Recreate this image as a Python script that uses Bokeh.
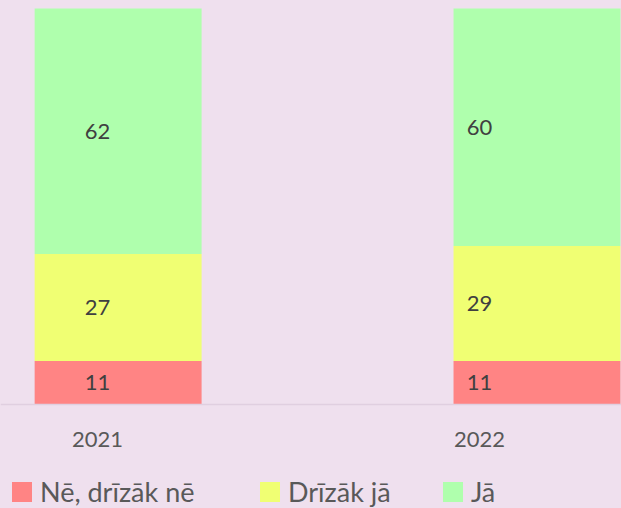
from bokeh.plotting import figure
from bokeh.models import ColumnDataSource, Range1d, FixedTicker, Legend, LegendItem
from bokeh.embed import file_html
from bokeh.resources import INLINE
from bokeh.core.properties import value

# ---- data ----
years = ["2021", "2022"]
series = ["Nē, drīzāk nē", "Drīzāk jā", "Jā"]
ne = [11, 11]
drizak_ja = [27, 29]
ja = [62, 60]

# ---- style / layout ----
BG = "#EFE0EE"
COLORS = ["#FF8484", "#F0FF73", "#AFFFAD"]
BAR_SHIFT = [0.054, 0.1505]
BAR_WIDTH = 0.437
FONT = "Lato"

idx = list(range(len(years)))
src = ColumnDataSource(dict(
    idx=idx,
    xbar=[i + s for i, s in zip(idx, BAR_SHIFT)],
    ne=ne, drizak_ja=drizak_ja, ja=ja,
))

p = figure(width=621, height=508, output_backend="svg", toolbar_location=None,
           x_range=Range1d(-0.2539, 1.3717), y_range=Range1d(-26.26, 102.02),
           min_border_left=0, min_border_right=0, min_border_top=0, min_border_bottom=0)
p.background_fill_color = BG
p.border_fill_color = BG
p.outline_line_color = None
p.xgrid.visible = False
p.ygrid.visible = False
p.yaxis.visible = False

renderers = p.vbar_stack(["ne", "drizak_ja", "ja"], x="xbar", width=BAR_WIDTH,
                         color=COLORS, line_color=None, source=src)

# data labels at segment middles
bottoms = [0] * len(years)
for key, vals in zip(["ne", "drizak_ja", "ja"], [ne, drizak_ja, ja]):
    mids = [b + v / 2 for b, v in zip(bottoms, vals)]
    ls = ColumnDataSource(dict(x=idx, y=mids, t=[str(v) for v in vals]))
    p.text(x="x", y="y", text="t", source=ls, text_align="center", text_baseline="middle",
           text_font=value(FONT), text_font_size="22px", text_color="#404040")
    bottoms = [b + v for b, v in zip(bottoms, vals)]

ax = p.xaxis[0]
ax.fixed_location = 0
ax.ticker = FixedTicker(ticks=idx)
ax.major_label_overrides = {i: y for i, y in zip(idx, years)}
ax.major_tick_line_color = None
ax.minor_tick_line_color = None
ax.axis_line_color = "#E0CFE0"
ax.axis_line_width = 1.5
ax.major_label_text_font = FONT
ax.major_label_text_font_size = "22px"
ax.major_label_text_color = "#595959"
ax.major_label_standoff = 21

# legends, one per item
leg_x = [9, 257, 440]
for r, name, lx in zip(renderers, series, leg_x):
    lg = Legend(items=[LegendItem(label=name, renderers=[r])], location=(lx, 0),
                orientation="horizontal", padding=0, margin=0, spacing=0,
                glyph_width=25, glyph_height=25, label_standoff=6,
                label_text_font=FONT, label_text_font_size="27px", label_text_color="#595959",
                border_line_color=None, background_fill_alpha=0)
    p.add_layout(lg, "center")

html = file_html(p, INLINE)
html = html.replace("</head>", "<style>html,body{margin:0;padding:0;background:%s;}</style></head>" % BG)
open("out.html", "w").write(html)
